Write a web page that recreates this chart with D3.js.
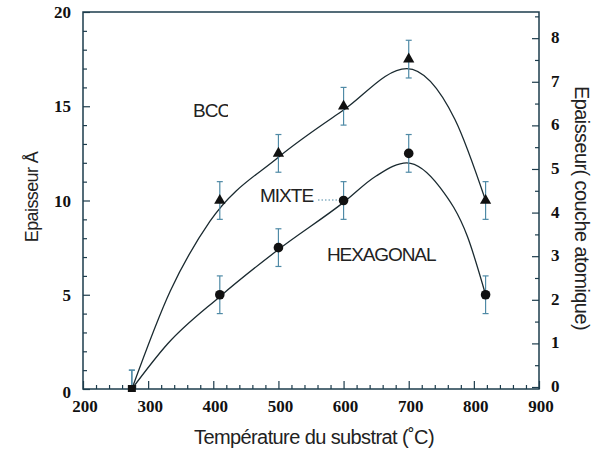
<!DOCTYPE html>
<html>
<head>
<meta charset="utf-8">
<script src="https://cdn.jsdelivr.net/npm/d3@7"></script>
<style>
  body { margin: 0; background: #fff; }
  svg { display: block; }
</style>
</head>
<body>
<script>
const width = 595;
const height = 452;
const margin = {top: 12, right: 56, bottom: 63, left: 83};

// measured points (temperature °C, thickness Å)
const temps = [275, 410, 500, 600, 700, 818];
const bccValues = [0, 10, 12.5, 15, 17.5, 10];
const hexValues = [0, 5, 7.5, 10, 12.5, 5];
const errors = [1, 1, 1, 1, 1, 1];

// hand drawn fit curves
const bccCurve = [[275, 0], [334, 5.2], [395, 8.9], [500, 12.3], [600, 14.8], [697, 17.0], [771, 14.3], [818, 10]];
const hexCurve = [[275, 0], [330, 2.4], [410, 4.9], [500, 7.4], [600, 9.9], [650, 11.3], [697, 12.0], [748, 10.7], [790, 8.1], [818, 5]];

const xTicks = [200, 300, 400, 500, 600, 700, 800, 900];
const yTicks = [0, 5, 10, 15, 20];
const y2Ticks = [0, 1, 2, 3, 4, 5, 6, 7, 8];

const axisColor = "#1d3c4c";
const errColor = "#4f8aa6";
const serif = "'Liberation Serif', 'Times New Roman', serif";
const sans = "'Liberation Sans', Arial, sans-serif";

const svg = d3.select("body").append("svg")
  .attr("width", width)
  .attr("height", height);

const x = d3.scaleLinear().domain([200, 900]).range([margin.left, width - margin.right]);
const y = d3.scaleLinear().domain([0, 20]).range([height - margin.bottom, margin.top]);
const y2 = d3.scaleLinear().domain([0, 8.6]).range([height - margin.bottom - 2, margin.top]);

const styleAxis = (g) => {
  g.select(".domain").remove();
  g.selectAll("line").attr("stroke", axisColor).attr("stroke-width", 1.2);
  g.selectAll("text").remove();
};

// minor + major ticks, drawn inward
const bottom = y.range()[0];
svg.append("g").attr("transform", `translate(0,${bottom})`)
  .call(d3.axisTop(x).tickValues(d3.range(200, 901, 20).filter(v => v % 100)).tickSize(4))
  .call(styleAxis);
svg.append("g").attr("transform", `translate(0,${bottom})`)
  .call(d3.axisTop(x).tickValues(xTicks).tickSize(8))
  .call(styleAxis);
svg.append("g").attr("transform", `translate(${margin.left},0)`)
  .call(d3.axisRight(y).tickValues(d3.range(0, 21, 1).filter(v => v % 5)).tickSize(4))
  .call(styleAxis);
svg.append("g").attr("transform", `translate(${margin.left},0)`)
  .call(d3.axisRight(y).tickValues(yTicks).tickSize(7))
  .call(styleAxis);
const rightX = width - margin.right;
svg.append("g").attr("transform", `translate(${rightX},0)`)
  .call(d3.axisLeft(y2).tickValues(d3.range(0.5, 8.6, 1)).tickSize(4))
  .call(styleAxis);
svg.append("g").attr("transform", `translate(${rightX},0)`)
  .call(d3.axisLeft(y2).tickValues(y2Ticks).tickSize(7))
  .call(styleAxis);

// frame
svg.append("rect")
  .attr("x", margin.left).attr("y", margin.top)
  .attr("width", rightX - margin.left)
  .attr("height", bottom - margin.top)
  .attr("fill", "none")
  .attr("stroke", axisColor)
  .attr("stroke-width", 1.5);

// tick labels
const tickText = (sel) => sel
  .attr("font-family", serif)
  .attr("font-weight", "bold")
  .attr("font-size", 17)
  .attr("fill", "#111");
svg.append("g").selectAll("text").data(xTicks).join("text")
  .call(tickText)
  .attr("x", d => x(d) + 2)
  .attr("y", bottom + 23)
  .attr("text-anchor", "middle")
  .text(d => d);
svg.append("g").selectAll("text").data(yTicks).join("text")
  .call(tickText)
  .attr("x", margin.left - 12)
  .attr("y", d => y(d) + (d === 0 ? 9 : 6))
  .attr("text-anchor", "end")
  .text(d => d);
svg.append("g").selectAll("text").data(y2Ticks).join("text")
  .call(tickText)
  .attr("x", rightX + 12)
  .attr("y", d => y2(d) + 5)
  .text(d => d);

// axis titles
const titleText = (sel, size) => sel
  .attr("font-family", sans)
  .attr("font-size", size)
  .attr("fill", "#222")
  .attr("letter-spacing", "-0.6px")
  .attr("text-anchor", "middle");
svg.append("text").call(titleText, 20)
  .attr("x", 314).attr("y", 444)
  .text("Température du substrat (˚C)");
svg.append("text").call(titleText, 18)
  .attr("transform", "translate(38,197) rotate(-90)")
  .text("Epaisseur Å");
svg.append("text").call(titleText, 20)
  .attr("transform", "translate(575,208) rotate(90)")
  .text("Epaisseur( couche atomique)");

// fit curves
const line = d3.line().x(d => x(d[0])).y(d => y(d[1])).curve(d3.curveMonotoneX);
[bccCurve, hexCurve].forEach(c => {
  svg.append("path")
    .attr("d", line(c))
    .attr("fill", "none")
    .attr("stroke", "#1a2a30")
    .attr("stroke-width", 1.3);
});

// error bars
const drawErrors = (values) => {
  const g = svg.append("g").attr("stroke", errColor).attr("stroke-width", 1.2);
  values.forEach((v, i) => {
    const lo = Math.max(0, v - errors[i]);
    const hi = v + errors[i];
    const cx = x(temps[i]);
    g.append("line").attr("x1", cx).attr("x2", cx).attr("y1", y(lo)).attr("y2", y(hi));
    g.append("line").attr("x1", cx - 3).attr("x2", cx + 3).attr("y1", y(hi)).attr("y2", y(hi));
    if (lo > 0) g.append("line").attr("x1", cx - 3).attr("x2", cx + 3).attr("y1", y(lo)).attr("y2", y(lo));
  });
};
drawErrors(bccValues);
drawErrors(hexValues);

// markers
const tri = d3.symbol().type(d3.symbolTriangle).size(55);
svg.append("g").selectAll("path").data(temps.slice(1)).join("path")
  .attr("d", tri)
  .attr("transform", (d, i) => `translate(${x(d)},${y(bccValues[i + 1])})`)
  .attr("fill", "#111");
svg.append("g").selectAll("circle").data(temps.slice(1)).join("circle")
  .attr("cx", d => x(d))
  .attr("cy", (d, i) => y(hexValues[i + 1]))
  .attr("r", 4.8)
  .attr("fill", "#111");
svg.append("rect")
  .attr("x", x(temps[0]) - 4).attr("y", y(0) - 4)
  .attr("width", 8).attr("height", 7)
  .attr("fill", "#111");

// phase labels
const phaseText = (sel) => sel
  .attr("font-family", sans)
  .attr("font-size", 19)
  .attr("fill", "#222")
  .attr("letter-spacing", "-1px");
svg.append("clipPath").attr("id", "bccClip")
  .append("rect").attr("x", 180).attr("y", 90).attr("width", 48).attr("height", 40);
svg.append("text").call(phaseText)
  .attr("x", 193).attr("y", 117)
  .attr("clip-path", "url(#bccClip)")
  .text("BCC");
svg.append("text").call(phaseText)
  .attr("x", 260).attr("y", 202)
  .text("MIXTE");
svg.append("line")
  .attr("x1", 318).attr("x2", 338).attr("y1", 200).attr("y2", 200)
  .attr("stroke", errColor).attr("stroke-width", 1)
  .attr("stroke-dasharray", "1.5,2");
svg.append("text").call(phaseText)
  .attr("x", 327).attr("y", 261)
  .attr("letter-spacing", "-1.1px")
  .text("HEXAGONAL");
</script>
</body>
</html>
